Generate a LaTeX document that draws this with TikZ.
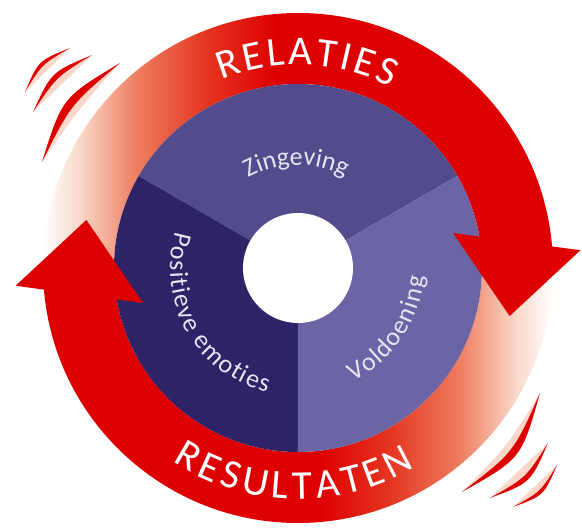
\documentclass[tikz,border=0pt]{standalone}
\usepackage{fontspec}
\usetikzlibrary{calc,decorations.text}

\newfontfamily\labelfont{Carlito}
\newcommand{\ringfont}{\labelfont\fontsize{41}{44}\selectfont}
\newcommand{\slicefont}{\labelfont\fontsize{26}{28}\selectfont}

\definecolor{ringred}{RGB}{222,0,0}
\definecolor{fadered}{RGB}{228,50,30}
\definecolor{fadeorange}{RGB}{238,125,95}
\definecolor{fadepeach}{RGB}{250,215,200}
\definecolor{zingcol}{RGB}{82,75,140}
\definecolor{emocol}{RGB}{46,35,102}
\definecolor{voldcol}{RGB}{108,101,165}
\definecolor{lavender}{RGB}{230,228,242}

% white on the left, full red from the middle on
\pgfdeclarehorizontalshading{ringfade}{100bp}{color(0bp)=(white); color(26bp)=(white);
  color(29.6bp)=(fadepeach); color(35bp)=(fadeorange); color(42bp)=(fadered);
  color(48.5bp)=(ringred); color(100bp)=(ringred)}

\tikzstyle{band} = [shading=ringfade]
\tikzstyle{head} = [fill=ringred]
\tikzstyle{swoosh} = [fill=ringred]
\tikzstyle{swooshshade} = [fill=fadepeach]
\tikzstyle{ringtext} = [decorate, decoration={text along path, text align=fit to path, text color=white}]
\tikzstyle{slicetext} = [decorate, decoration={text along path, text align=fit to path, text color=lavender}]

% crescent between two named points, outer and inner bow
\newcommand{\swoosh}[4]{
  \fill[swooshshade] (#1) .. controls ($(#1)!.5!(#2)!#4!90:(#2)$) .. (#2)
    .. controls ($(#1)!.5!(#2)!#4-9pt!90:(#2)$) .. (#1) -- cycle;
  \fill[swoosh] (#1) .. controls ($(#1)!.5!(#2)!#3!90:(#2)$) .. (#2)
    .. controls ($(#1)!.5!(#2)!#4!90:(#2)$) .. (#1) -- cycle;
}

\begin{document}
\begin{tikzpicture}[x=1pt,y=1pt]
\useasboundingbox (-298,-260) rectangle (284,268);
\coordinate (c) at (0,0);

% the two bands, each fading in from white, meeting under the heads
\foreach \r in {0,180} {
  \shade[band, shading angle=\r] (184.5+\r:255) arc[start angle=184.5+\r, end angle=4.5+\r, radius=255]
    -- (9+\r:184) arc[start angle=9+\r, end angle=189+\r, radius=184] -- cycle;
}

% three slices
\fill[zingcol] (c) -- (30:184) arc[start angle=30, end angle=150, radius=184] -- cycle;
\fill[emocol] (c) -- (150:184) arc[start angle=150, end angle=270, radius=184] -- cycle;
\fill[voldcol] (c) -- (270:184) arc[start angle=270, end angle=390, radius=184] -- cycle;
\fill[white] (c) circle[radius=55];

% arrow heads
\foreach \r in {0,180}
  \fill[head] (12.7+\r:159) -- (-12.8+\r:217) -- (3.6+\r:283) -- cycle;

% motion lines
\coordinate (tl1a) at (-256,106);  \coordinate (tl1b) at (-178,205);
\coordinate (tl2a) at (-265,156);  \coordinate (tl2b) at (-206,213);
\coordinate (tl3a) at (-273,176);  \coordinate (tl3b) at (-228,220);
\coordinate (br1a) at (242,-125);  \coordinate (br1b) at (164,-224);
\coordinate (br2a) at (250,-175);  \coordinate (br2b) at (192,-230);
\coordinate (br3a) at (259,-197);  \coordinate (br3b) at (215,-239);
\swoosh{tl1a}{tl1b}{24pt}{13pt}
\swoosh{tl2a}{tl2b}{16pt}{9pt}
\swoosh{tl3a}{tl3b}{13pt}{8pt}
\swoosh{br1a}{br1b}{26pt}{16pt}
\swoosh{br2a}{br2b}{17pt}{10pt}
\swoosh{br3a}{br3b}{13pt}{8pt}

% labels
\path[ringtext, decoration={text={|\ringfont|RELATIES}}]
  (112:203) arc[start angle=112, end angle=63, radius=203];
\path[ringtext, decoration={text={|\ringfont|RESULTATEN}}]
  (237:231) arc[start angle=237, end angle=300.5, radius=231];
\path[slicetext, decoration={text={|\slicefont|Zingeving}}]
  (119:103) arc[start angle=119, end angle=64, radius=103];
\path[slicetext, decoration={text={|\slicefont|Positieve emoties}}]
  (163.5:128) arc[start angle=163.5, end angle=256, radius=128];
\path[slicetext, decoration={text={|\slicefont|Voldoening}}]
  (-64:126) arc[start angle=-64, end angle=-4, radius=126];
\end{tikzpicture}
\end{document}
